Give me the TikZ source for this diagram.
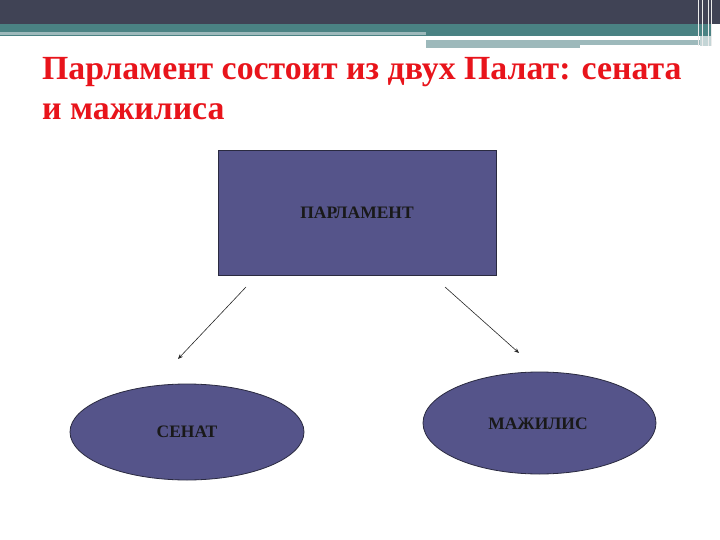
\documentclass[tikz,border=0pt]{standalone}
\usepackage{fontspec}
\setmainfont{Liberation Serif}
\usetikzlibrary{shapes.geometric,arrows.meta}
\definecolor{hdark}{HTML}{404355}
\definecolor{hteal}{HTML}{4A8283}
\definecolor{hlight}{HTML}{9DB9BB}
\definecolor{boxfill}{HTML}{55548A}
\definecolor{boxline}{HTML}{2A2A40}
\definecolor{titlered}{HTML}{E8141B}
\tikzset{
  unitbox/.style={draw=boxline, fill=boxfill, line width=0.8pt, inner sep=0pt},
  lbl/.style={font=\bfseries\fontsize{17.5}{20}\selectfont, text=black!90},
  conn/.style={-{Stealth[length=5pt,width=4pt]}, line width=0.6pt, draw=black!85},
  ttl/.style={anchor=base west, text=titlered, font=\bfseries\fontsize{33.8}{38}\selectfont, inner sep=0pt}
}
\begin{document}
\begin{tikzpicture}[x=1pt,y=-1pt]
\useasboundingbox (0,0) rectangle (720,540);
% header
\fill[hdark] (0,0) rectangle (700,24);
\fill[hteal] (0,24) rectangle (700,36);
\fill[hlight] (0,32) rectangle (426,35);
\fill[hlight] (426,40) rectangle (580,48);
\fill[hlight] (580,40) rectangle (700,45);
\fill[white] (426,37.5) rectangle (667,39.5);
\fill[hdark] (700,0) rectangle (720,24);
\fill[hteal] (700,24) rectangle (712,36);
\fill[hlight!60] (700,36) rectangle (712,46);
\foreach \xx in {698,702,708,711}{\fill[white!85!gray] (\xx,0) rectangle (\xx+1.2,46);}
% title
\node[ttl] (t1) at (42,80) {Парламент состоит из двух Палат: сената};
\node[ttl] (t2) at (42,120) {и мажилиса};
% nodes
\node[unitbox, rectangle, minimum width=278pt, minimum height=125pt] (parl) at (357,212.5) {};
\node[lbl] at (parl.center) {ПАРЛАМЕНТ};
\node[unitbox, ellipse, minimum width=234pt, minimum height=96pt] (senat) at (187,432) {};
\node[lbl] at (senat.center) {СЕНАТ};
\node[unitbox, ellipse, minimum width=233pt, minimum height=102pt] (maj) at (539.5,423) {};
\node[lbl] at (538,424) {МАЖИЛИС};
% connectors
\coordinate (a1) at (246,287);
\coordinate (a2) at (178,359);
\coordinate (b1) at (445,287);
\coordinate (b2) at (519,353);
\draw[conn] (a1) -- (a2);
\draw[conn] (b1) -- (b2);
\end{tikzpicture}
\end{document}
